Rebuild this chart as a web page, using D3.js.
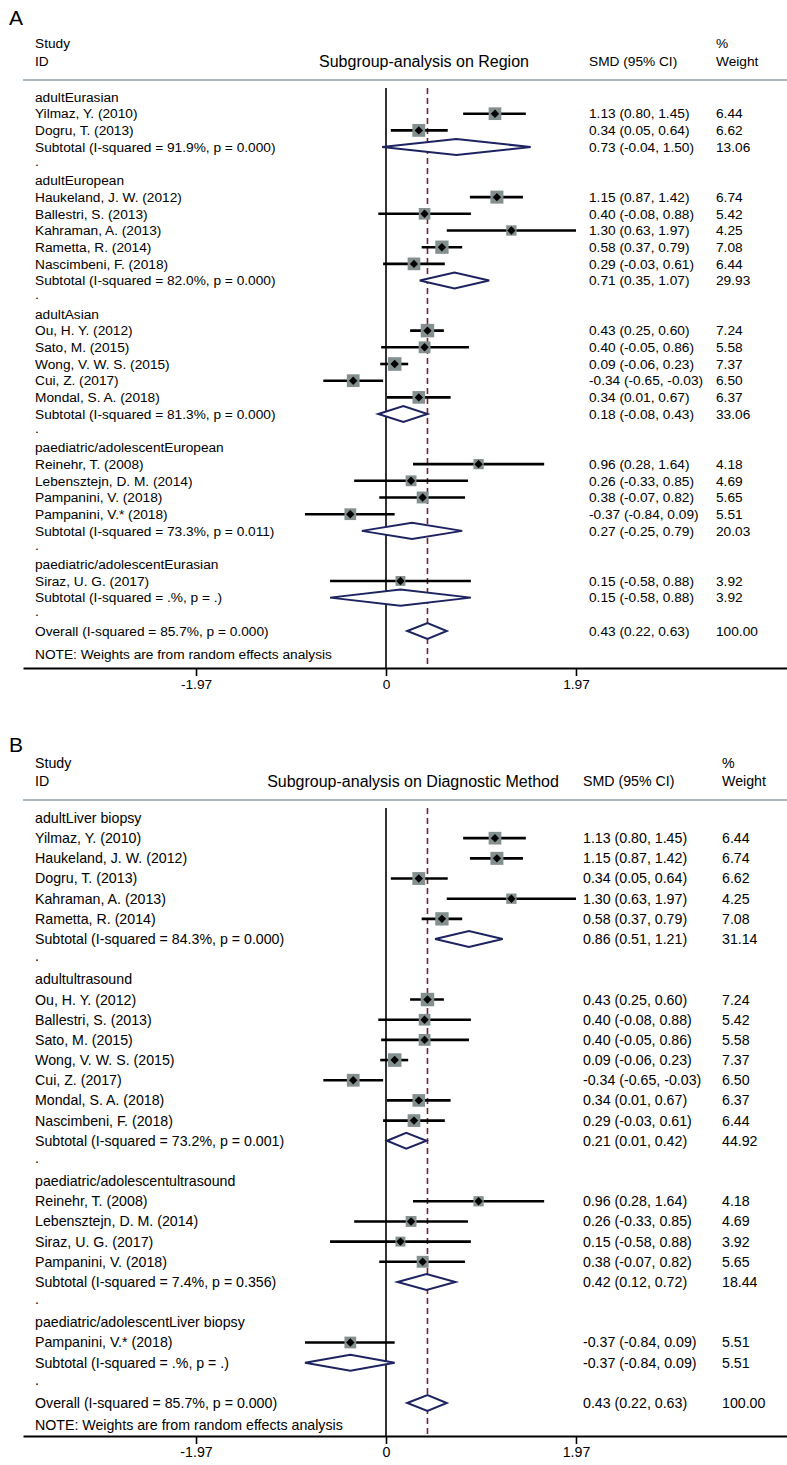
<!DOCTYPE html>
<html>
<head>
<meta charset="utf-8">
<script src="https://cdn.jsdelivr.net/npm/d3@7"></script>
<style>
  html, body { margin: 0; padding: 0; background: #fff; }
  svg text { font-family: "Liberation Sans", Arial, sans-serif; fill: #000; }
</style>
</head>
<body>
<svg id="chart" width="787" height="1465"></svg>
<script>
// ---------------- DATA ----------------
// Panel A : Subgroup-analysis on Region
const titleA = "Subgroup-analysis on Region";
const labelsA = [
  "adultEurasian", "Yilmaz, Y. (2010)", "Dogru, T. (2013)",
  "Subtotal  (I-squared = 91.9%, p = 0.000)", ".",
  "adultEuropean", "Haukeland, J. W. (2012)", "Ballestri, S. (2013)", "Kahraman, A. (2013)",
  "Rametta, R. (2014)", "Nascimbeni, F. (2018)",
  "Subtotal  (I-squared = 82.0%, p = 0.000)", ".",
  "adultAsian", "Ou, H. Y. (2012)", "Sato, M. (2015)", "Wong, V. W. S. (2015)", "Cui, Z. (2017)",
  "Mondal, S. A. (2018)",
  "Subtotal  (I-squared = 81.3%, p = 0.000)", ".",
  "paediatric/adolescentEuropean", "Reinehr, T. (2008)", "Lebensztejn, D. M. (2014)",
  "Pampanini, V. (2018)", "Pampanini, V.* (2018)",
  "Subtotal  (I-squared = 73.3%, p = 0.011)", ".",
  "paediatric/adolescentEurasian", "Siraz, U. G. (2017)",
  "Subtotal  (I-squared = .%, p = .)", ".",
  "Overall  (I-squared = 85.7%, p = 0.000)"
];
// row kinds: h = group header, s = study, t = subtotal, d = spacer dot, o = overall
const kindsA = ["h","s","s","t","d","h","s","s","s","s","s","t","d","h","s","s","s","s","s","t","d",
                "h","s","s","s","s","t","d","h","s","t","d","o"];
const smdA = [null,1.13,0.34,0.73,null,null,1.15,0.40,1.30,0.58,0.29,0.71,null,null,0.43,0.40,0.09,-0.34,0.34,0.18,null,
              null,0.96,0.26,0.38,-0.37,0.27,null,null,0.15,0.15,null,0.43];
const lowA = [null,0.80,0.05,-0.04,null,null,0.87,-0.08,0.63,0.37,-0.03,0.35,null,null,0.25,-0.05,-0.06,-0.65,0.01,-0.08,null,
              null,0.28,-0.33,-0.07,-0.84,-0.25,null,null,-0.58,-0.58,null,0.22];
const highA = [null,1.45,0.64,1.50,null,null,1.42,0.88,1.97,0.79,0.61,1.07,null,null,0.60,0.86,0.23,-0.03,0.67,0.43,null,
               null,1.64,0.85,0.82,0.09,0.79,null,null,0.88,0.88,null,0.63];
const weightA = [null,6.44,6.62,13.06,null,null,6.74,5.42,4.25,7.08,6.44,29.93,null,null,7.24,5.58,7.37,6.50,6.37,33.06,null,
                 null,4.18,4.69,5.65,5.51,20.03,null,null,3.92,3.92,null,100.00];

// Panel B : Subgroup-analysis on Diagnostic Method
const titleB = "Subgroup-analysis on Diagnostic Method";
const labelsB = [
  "adultLiver biopsy", "Yilmaz, Y. (2010)", "Haukeland, J. W. (2012)", "Dogru, T. (2013)",
  "Kahraman, A. (2013)", "Rametta, R. (2014)",
  "Subtotal  (I-squared = 84.3%, p = 0.000)", ".",
  "adultultrasound", "Ou, H. Y. (2012)", "Ballestri, S. (2013)", "Sato, M. (2015)",
  "Wong, V. W. S. (2015)", "Cui, Z. (2017)", "Mondal, S. A. (2018)", "Nascimbeni, F. (2018)",
  "Subtotal  (I-squared = 73.2%, p = 0.001)", ".",
  "paediatric/adolescentultrasound", "Reinehr, T. (2008)", "Lebensztejn, D. M. (2014)",
  "Siraz, U. G. (2017)", "Pampanini, V. (2018)",
  "Subtotal  (I-squared = 7.4%, p = 0.356)", ".",
  "paediatric/adolescentLiver biopsy", "Pampanini, V.* (2018)",
  "Subtotal  (I-squared = .%, p = .)", ".",
  "Overall  (I-squared = 85.7%, p = 0.000)"
];
const kindsB = ["h","s","s","s","s","s","t","d","h","s","s","s","s","s","s","s","t","d",
                "h","s","s","s","s","t","d","h","s","t","d","o"];
const smdB = [null,1.13,1.15,0.34,1.30,0.58,0.86,null,null,0.43,0.40,0.40,0.09,-0.34,0.34,0.29,0.21,null,
              null,0.96,0.26,0.15,0.38,0.42,null,null,-0.37,-0.37,null,0.43];
const lowB = [null,0.80,0.87,0.05,0.63,0.37,0.51,null,null,0.25,-0.08,-0.05,-0.06,-0.65,0.01,-0.03,0.01,null,
              null,0.28,-0.33,-0.58,-0.07,0.12,null,null,-0.84,-0.84,null,0.22];
const highB = [null,1.45,1.42,0.64,1.97,0.79,1.21,null,null,0.60,0.88,0.86,0.23,-0.03,0.67,0.61,0.42,null,
               null,1.64,0.85,0.88,0.82,0.72,null,null,0.09,0.09,null,0.63];
const weightB = [null,6.44,6.74,6.62,4.25,7.08,31.14,null,null,7.24,5.42,5.58,7.37,6.50,6.37,6.44,44.92,null,
                 null,4.18,4.69,3.92,5.65,18.44,null,null,5.51,5.51,null,100.00];

const tickValues = [-1.97, 0, 1.97];
const tickLabels = ["-1.97", "0", "1.97"];
const overallSMD = 0.43;
const noteText = "NOTE: Weights are from random effects analysis";

// ---------------- DRAW ----------------
const svg = d3.select("#chart");
const fmt = v => v.toFixed(2);

function panel(cfg) {
  const g = svg.append("g");
  const n = cfg.labels.length;
  const FS = cfg.fs;
  const x = d3.scaleLinear().domain([-3.764, 4.158]).range([23, 787]);
  const y = d3.scaleLinear().domain([0, n - 1]).range([cfg.row0, cfg.rowLast]);

  g.append("text").attr("x", 9).attr("y", cfg.letterY).attr("dy", "0.35em")
    .style("font-size", "21px").text(cfg.letter);

  g.append("text").attr("x", 35).attr("y", cfg.ruleY - 37).attr("dy", "0.35em").style("font-size", FS + "px").text("Study");
  g.append("text").attr("x", 35).attr("y", cfg.ruleY - 19).attr("dy", "0.35em").style("font-size", FS + "px").text("ID");
  g.append("text").attr("x", cfg.titleX).attr("y", cfg.ruleY - 19).attr("dy", "0.35em")
    .attr("text-anchor", "middle").style("font-size", "16px").text(cfg.title);
  g.append("text").attr("x", cfg.ciX).attr("y", cfg.ruleY - 19).attr("dy", "0.35em").style("font-size", FS + "px").text("SMD (95% CI)");
  g.append("text").attr("x", cfg.wX).attr("y", cfg.ruleY - 37).attr("dy", "0.35em").style("font-size", FS + "px").text("%");
  g.append("text").attr("x", cfg.wX).attr("y", cfg.ruleY - 19).attr("dy", "0.35em").style("font-size", FS + "px").text("Weight");

  g.append("line").attr("x1", 23).attr("x2", 787).attr("y1", cfg.ruleY).attr("y2", cfg.ruleY)
    .attr("stroke", "#8fa1ae").attr("stroke-width", 1.6);

  g.append("line").attr("x1", x(0)).attr("x2", x(0)).attr("y1", cfg.ruleY + 8).attr("y2", cfg.axisY)
    .attr("stroke", "#000").attr("stroke-width", 1.6);
  g.append("line").attr("x1", x(overallSMD)).attr("x2", x(overallSMD)).attr("y1", cfg.ruleY + 8).attr("y2", cfg.axisY)
    .attr("stroke", "#7a1f30").attr("stroke-width", 1.6).attr("stroke-dasharray", "6,4");

  const rows = d3.range(n).map(i => ({
    i, label: cfg.labels[i], kind: cfg.kinds[i], es: cfg.smd[i], lo: cfg.low[i], hi: cfg.high[i], w: cfg.weight[i]
  }));

  g.selectAll("text.lab").data(rows).join("text").attr("class", "lab")
    .attr("x", 35).attr("y", d => y(d.i)).attr("dy", d => d.kind === "d" ? "0.15em" : "0.35em")
    .style("font-size", FS + "px").text(d => d.label);

  const est = rows.filter(d => d.es !== null);
  g.selectAll("text.ci").data(est).join("text").attr("class", "ci")
    .attr("x", cfg.ciX).attr("y", d => y(d.i)).attr("dy", "0.35em").style("font-size", FS + "px")
    .text(d => `${fmt(d.es)} (${fmt(d.lo)}, ${fmt(d.hi)})`);
  g.selectAll("text.w").data(est).join("text").attr("class", "w")
    .attr("x", cfg.wX).attr("y", d => y(d.i)).attr("dy", "0.35em").style("font-size", FS + "px")
    .text(d => fmt(d.w));

  const studies = rows.filter(d => d.kind === "s");
  g.selectAll("line.cil").data(studies).join("line").attr("class", "cil")
    .attr("x1", d => x(d.lo)).attr("x2", d => x(d.hi)).attr("y1", d => y(d.i)).attr("y2", d => y(d.i))
    .attr("stroke", "#000").attr("stroke-width", 2.6);
  g.selectAll("rect.box").data(studies).join("rect").attr("class", "box")
    .attr("x", d => x(d.es) - 2.5 * Math.sqrt(d.w)).attr("y", d => y(d.i) - 2.5 * Math.sqrt(d.w))
    .attr("width", d => 5 * Math.sqrt(d.w)).attr("height", d => 5 * Math.sqrt(d.w))
    .attr("fill", "#83908f");
  g.selectAll("path.pt").data(studies).join("path").attr("class", "pt")
    .attr("d", d => {
      const cx = x(d.es), cy = y(d.i), r = 4.2;
      return `M${cx - r},${cy}L${cx},${cy - r}L${cx + r},${cy}L${cx},${cy + r}Z`;
    }).attr("fill", "#000");

  const pooled = rows.filter(d => d.kind === "t" || d.kind === "o");
  g.selectAll("path.pool").data(pooled).join("path").attr("class", "pool")
    .attr("d", d => {
      const cy = y(d.i), h = 8;
      return `M${x(d.lo)},${cy}L${x(d.es)},${cy - h}L${x(d.hi)},${cy}L${x(d.es)},${cy + h}Z`;
    }).attr("fill", "#fff").attr("stroke", "#1d2360").attr("stroke-width", 2);

  g.append("text").attr("x", 35).attr("y", cfg.noteY).attr("dy", "0.35em").style("font-size", FS + "px").text(noteText);

  const axis = d3.axisBottom(x).tickValues(tickValues).tickSize(8).tickSizeOuter(0)
    .tickFormat((d, i) => tickLabels[i]);
  const ag = g.append("g").attr("transform", `translate(0,${cfg.axisY})`).call(axis);
  ag.select(".domain").attr("stroke", "#000").attr("stroke-width", 2);
  ag.selectAll(".tick line").attr("stroke", "#000").attr("stroke-width", 1.6);
  ag.selectAll(".tick text").attr("y", 11).attr("dy", "0.71em")
    .style("font-size", FS + "px").style("font-family", "'Liberation Sans', Arial, sans-serif").attr("fill", "#000");
}

panel({ letter: "A", letterY: 18, ruleY: 80, row0: 97, rowLast: 631, noteY: 654, axisY: 668, fs: 13.7,
        title: titleA, titleX: 424, ciX: 589, wX: 716,
        labels: labelsA, kinds: kindsA, smd: smdA, low: lowA, high: highA, weight: weightA });
panel({ letter: "B", letterY: 745, ruleY: 800, row0: 818, rowLast: 1403, noteY: 1425, axisY: 1436, fs: 14.2,
        title: titleB, titleX: 413, ciX: 583, wX: 722,
        labels: labelsB, kinds: kindsB, smd: smdB, low: lowB, high: highB, weight: weightB });
</script>
</body>
</html>
